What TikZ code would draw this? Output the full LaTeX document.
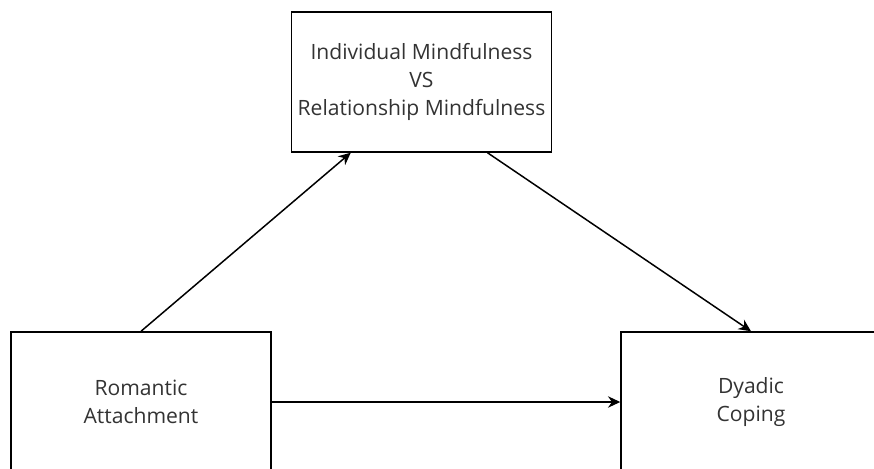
\documentclass[tikz,border=0pt]{standalone}
\usepackage{fontspec}
\setmainfont{Open Sans}
\usetikzlibrary{arrows.meta}

\tikzset{
    factor/.style={draw, line width=0.85pt, minimum width=5.2cm, minimum height=2.8cm,
        align=center, text=black!80, font=\fontsize{12}{15.8}\selectfont},
    path/.style={line width=0.85pt, -{Stealth[length=7pt, width=6.5pt]}}
}

\begin{document}
\begin{tikzpicture}[x=0.02cm, y=-0.02cm]
            \clip (0,0) rectangle (874,469);

            \node[factor] (mind) at (421.5,82) {Individual Mindfulness\\VS\\Relationship Mindfulness};
            \node[factor] (attach) at (141,402) {Romantic\\Attachment};
            \node[factor] (coping) at (751,402) {Dyadic\\Coping};

            \draw[path] (attach.north) -- (mind.225);
            \draw[path] (mind.-47) -- (coping.north);
            \draw[path] (attach.east) -- (coping.west);
    \end{tikzpicture}
\end{document}
